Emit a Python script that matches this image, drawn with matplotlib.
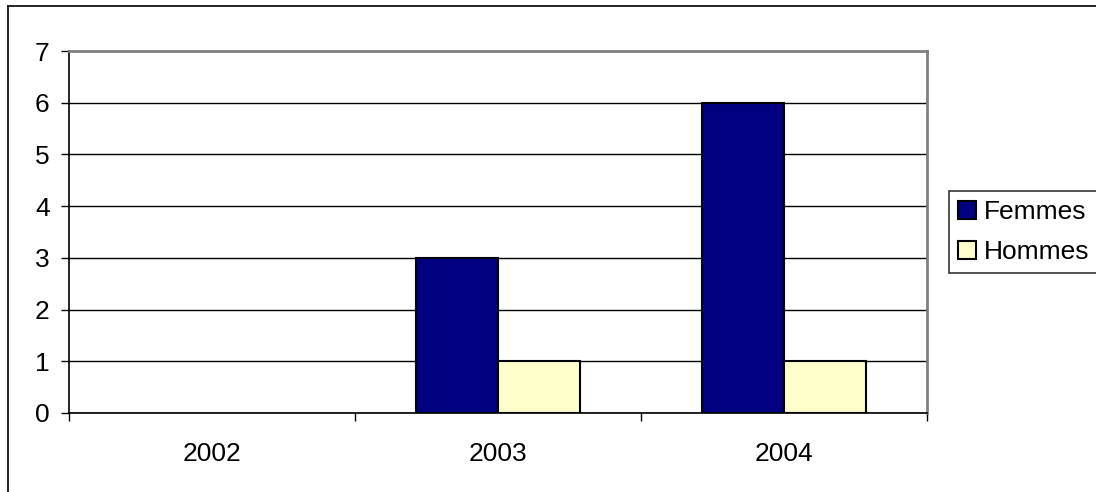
import matplotlib.pyplot as plt
import numpy as np
from matplotlib.lines import Line2D

years = ["2002", "2003", "2004"]
femmes = [0, 3, 6]
hommes = [0, 1, 1]

plt.rcParams["font.family"] = ["Liberation Sans", "DejaVu Sans"]

fig = plt.figure(figsize=(10.96, 4.92), dpi=100)
ax = fig.add_axes([69 / 1096, 1 - 413 / 492, (927 - 69) / 1096, (413 - 51) / 492])

x = np.arange(len(years))
w = 1 / 3.5
b1 = ax.bar(x - w / 2, femmes, w, color="#000080", edgecolor="black", linewidth=1.5, label="Femmes", zorder=3)
b2 = ax.bar(x + w / 2, hommes, w, color="#FFFFCC", edgecolor="black", linewidth=1.5, label="Hommes", zorder=3)

ax.set_xlim(-0.5, len(years) - 0.5)
ax.set_ylim(0, 7)
ax.set_yticks(range(0, 8))
ax.yaxis.grid(True, color="black", linewidth=1, zorder=0)
ax.set_axisbelow(True)

# category boundaries get the tick marks, labels sit in the middle
ax.set_xticks(np.arange(-0.5, len(years), 1.0))
ax.set_xticklabels([])
ax.set_xticks(x, minor=True)
ax.set_xticklabels(years, minor=True)
ax.tick_params(axis="x", which="major", length=6, width=1, direction="out")
ax.tick_params(axis="x", which="minor", length=0, pad=21, labelsize=19)
ax.tick_params(axis="y", length=6, width=1, direction="out", pad=8, labelsize=19)

for s in ["left", "bottom"]:
    ax.spines[s].set_color("black")
    ax.spines[s].set_linewidth(1.2)
for s in ["top", "right"]:
    ax.spines[s].set_color("#808080")
    ax.spines[s].set_linewidth(2)

leg = fig.legend(loc="upper left", bbox_to_anchor=(949 / 1096, 1 - 191 / 492),
                 fontsize=19, frameon=True, fancybox=False, edgecolor="black",
                 handlelength=0.68, handleheight=0.68, handletextpad=0.3,
                 borderpad=0.35, labelspacing=0.6, borderaxespad=0)
leg.get_frame().set_linewidth(1.2)

# empty bars (2002) leave no outline - done after legend so handles keep edges
for p in list(b1) + list(b2):
    if p.get_height() == 0:
        p.set_linewidth(0)

# outer chart border
fig.add_artist(Line2D([8 / 1096, 8 / 1096], [0, 1 - 6 / 492], color="black", linewidth=1.2))
fig.add_artist(Line2D([8 / 1096, 1], [1 - 6 / 492, 1 - 6 / 492], color="black", linewidth=1.2))

fig.savefig("out.png", dpi=100)
